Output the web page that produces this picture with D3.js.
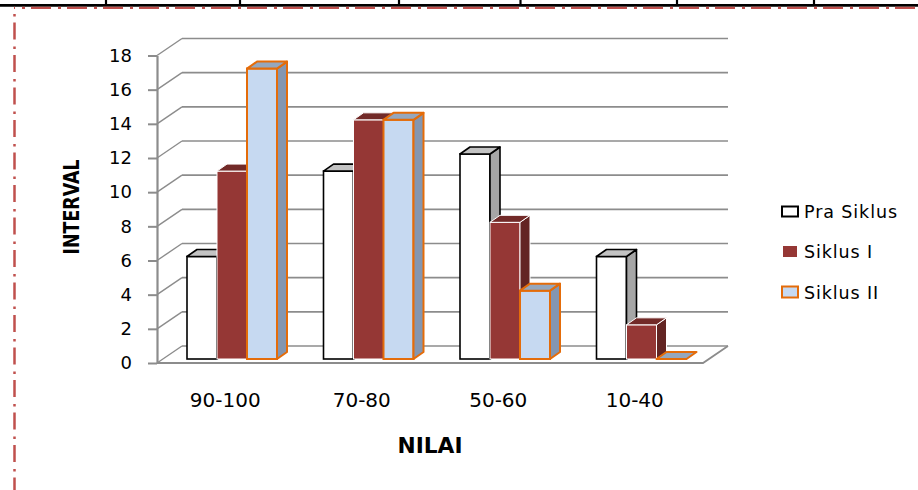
<!DOCTYPE html>
<html>
<head>
<meta charset="utf-8">
<script src="https://cdn.jsdelivr.net/npm/d3@7"></script>
<style>
  body { margin: 0; background: #fff; }
  text { font-family: "DejaVu Sans", sans-serif; fill: #000; }
</style>
</head>
<body>
<div id="container"></div>
<script>
/* CONSTANTS AND GLOBALS */
const width = 918;
const height = 490;
const left = 157, right = 703;      // front edge of the floor
const wallDx = 25, wallDy = -17;    // depth of the back wall
const barDx = 10, barDy = -7;       // depth of one bar
const barShiftY = -4;               // bars stand a bit behind the front edge
const barInset = 30;

/* DATA */
const categories = ["90-100", "70-80", "50-60", "10-40"];
const series = ["Pra Siklus", "Siklus I", "Siklus II"];
const praSiklus = [6, 11, 12, 6];
const siklusI = [11, 14, 8, 2];
const siklusII = [17, 14, 4, 0];
const yTicks = [0, 2, 4, 6, 8, 10, 12, 14, 16, 18];

const values = [praSiklus, siklusI, siklusII];

// colours per series: front, side, top, stroke
const styles = [
  { front: "#ffffff", side: "#a6a6a6", top: "#c3c3c3", stroke: "#000000", sw: 1.6 },
  { front: "#953735", side: "#632523", top: "#722a28", stroke: "#ffffff", sw: 1 },
  { front: "#c6d9f1", side: "#8496b0", top: "#95a7bd", stroke: "#e46c0a", sw: 2 }
];

/* SCALES */
const xScale = d3.scaleBand()
  .domain(categories)
  .range([left, right]);

const seriesScale = d3.scaleBand()
  .domain(series)
  .range([0, 90]);

const yScale = d3.scaleLinear()
  .domain([0, 18])
  .range([363, 55.5]);

/* SVG */
const svg = d3.select("#container")
  .append("svg")
  .attr("width", width)
  .attr("height", height);

// page decorations (table border + dashed frame)
svg.append("line")
  .attr("x1", 0).attr("x2", width)
  .attr("y1", 5.3).attr("y2", 5.3)
  .attr("stroke", "#000").attr("stroke-width", 2.8);

[106, 240, 399, 520.5, 677, 814].forEach(x => {
  svg.append("line")
    .attr("x1", x).attr("x2", x)
    .attr("y1", 0).attr("y2", 5)
    .attr("stroke", "#000").attr("stroke-width", 2.2);
});

svg.append("line")
  .attr("x1", 14).attr("x2", width)
  .attr("y1", 7.9).attr("y2", 7.9)
  .attr("stroke", "#c0504d").attr("stroke-width", 2.4)
  .attr("stroke-dasharray", "20,7,3,6")
  .attr("stroke-dashoffset", 19);

svg.append("line")
  .attr("x1", 14.5).attr("x2", 14.5)
  .attr("y1", 14).attr("y2", height)
  .attr("stroke", "#c0504d").attr("stroke-width", 2.5)
  .attr("stroke-dasharray", "2.5,6,17,7");

// back wall gridlines + left wall lines
const grid = svg.append("g").attr("class", "grid");
grid.selectAll("line.back")
  .data(yTicks)
  .join("line")
  .attr("class", "back")
  .attr("x1", left + wallDx).attr("x2", right + wallDx)
  .attr("y1", d => yScale(d) + wallDy)
  .attr("y2", d => yScale(d) + wallDy)
  .attr("stroke", "#8c8c8c").attr("stroke-width", 1.6);

grid.selectAll("line.side")
  .data(yTicks)
  .join("line")
  .attr("class", "side")
  .attr("x1", left).attr("x2", left + wallDx)
  .attr("y1", d => yScale(d))
  .attr("y2", d => yScale(d) + wallDy)
  .attr("stroke", "#8c8c8c").attr("stroke-width", 1.4);

// floor front edge and right edge
svg.append("path")
  .attr("d", `M${left},${yScale(0)}L${right},${yScale(0)}L${right + wallDx},${yScale(0) + wallDy}`)
  .attr("fill", "none")
  .attr("stroke", "#8c8c8c").attr("stroke-width", 1.8);

// bars
const barsG = svg.append("g").attr("class", "bars");
categories.forEach((cat, i) => {
  series.forEach((s, j) => {
    const v = values[j][i];
    const st = styles[j];
    const x0 = xScale(cat) + barInset + seriesScale(s);
    const x1 = x0 + seriesScale.bandwidth();
    const yb = yScale(0) + barShiftY;
    const yt = yScale(v) + barShiftY;
    const g = barsG.append("g");
    if (v > 0) {
      g.append("rect")
        .attr("x", x0).attr("y", yt)
        .attr("width", x1 - x0).attr("height", yb - yt)
        .attr("fill", st.front)
        .attr("stroke", st.stroke).attr("stroke-width", st.sw);
      g.append("path")
        .attr("d", `M${x1},${yt}L${x1 + barDx},${yt + barDy}L${x1 + barDx},${yb + barDy}L${x1},${yb}Z`)
        .attr("fill", st.side)
        .attr("stroke", st.stroke).attr("stroke-width", st.sw)
        .attr("stroke-linejoin", "round");
    }
    g.append("path")
      .attr("d", `M${x0},${yt}L${x0 + barDx},${yt + barDy}L${x1 + barDx},${yt + barDy}L${x1},${yt}Z`)
      .attr("fill", st.top)
      .attr("stroke", st.stroke).attr("stroke-width", st.sw)
      .attr("stroke-linejoin", "round");
  });
});

// y-axis
const yAxis = d3.axisLeft(yScale)
  .tickValues(yTicks)
  .tickSizeInner(9)
  .tickSizeOuter(0)
  .tickPadding(16);
const yG = svg.append("g")
  .attr("class", "y-axis")
  .attr("transform", `translate(${left},0)`)
  .call(yAxis);
yG.select(".domain").attr("stroke", "#8c8c8c").attr("stroke-width", 2.2);
yG.selectAll(".tick line").attr("stroke", "#8c8c8c").attr("stroke-width", 2);
yG.selectAll(".tick text")
  .attr("font-family", "DejaVu Sans")
  .attr("font-size", 18)
  .attr("fill", "#000");

// x-axis (category labels)
const xAxis = d3.axisBottom(xScale).tickSize(0).tickPadding(30);
const xG = svg.append("g")
  .attr("class", "x-axis")
  .attr("transform", `translate(0,${yScale(0)})`)
  .call(xAxis);
xG.select(".domain").remove();
xG.selectAll(".tick text")
  .attr("font-family", "DejaVu Sans")
  .attr("font-size", 20)
  .attr("fill", "#000");

// axis titles
svg.append("text")
  .attr("x", (left + right) / 2)
  .attr("y", 453)
  .attr("text-anchor", "middle")
  .attr("font-weight", "bold")
  .attr("font-size", 22)
  .attr("textLength", 65)
  .attr("lengthAdjust", "spacingAndGlyphs")
  .text("NILAI");

svg.append("text")
  .attr("transform", "translate(79,207) rotate(-90)")
  .attr("text-anchor", "middle")
  .attr("font-weight", "bold")
  .attr("font-size", 21)
  .attr("textLength", 95)
  .attr("lengthAdjust", "spacingAndGlyphs")
  .text("INTERVAL");

// legend
const legend = svg.append("g")
  .attr("class", "legend")
  .attr("transform", "translate(782,0)");
const legendY = [211.5, 251.5, 292];
const legendBox = [
  { w: 16, h: 10, sw: 2 },
  { w: 14, h: 11, sw: 0 },
  { w: 16, h: 11, sw: 2 }
];
series.forEach((s, j) => {
  const b = legendBox[j];
  legend.append("rect")
    .attr("x", (16 - b.w) / 2)
    .attr("y", legendY[j] - b.h / 2)
    .attr("width", b.w).attr("height", b.h)
    .attr("fill", styles[j].front)
    .attr("stroke", j === 1 ? "none" : styles[j].stroke)
    .attr("stroke-width", b.sw);
  legend.append("text")
    .attr("x", 22)
    .attr("y", legendY[j] + 6.5)
    .attr("font-size", 17.5)
    .attr("letter-spacing", 0.9)
    .text(s);
});
</script>
</body>
</html>
